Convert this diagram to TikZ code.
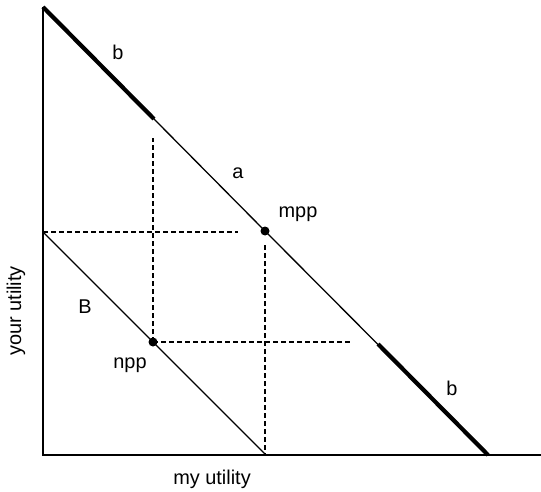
\documentclass[tikz,border=0pt]{standalone}
\usepackage{fontspec}
\setmainfont{Liberation Sans}
\usetikzlibrary{positioning}

\tikzset{
  axisline/.style={line width=1.4bp},
  frontier/.style={line width=1.3bp},
  thickpart/.style={line width=4.2bp},
  guide/.style={line width=1.2bp, dash pattern=on 5bp off 3bp},
  pointdot/.style={circle, fill=black, inner sep=0pt, minimum size=9bp},
  lbl/.style={font=\fontsize{20}{23}\selectfont, inner sep=0pt}
}

\begin{document}
\begin{tikzpicture}[x=1bp, y=-1bp]
  \useasboundingbox (0,0) rectangle (541,492);

  \coordinate (origin) at (43,455);
  \coordinate (ytop) at (43,7);
  \coordinate (xend) at (541,455);
  \coordinate (bigend) at (488,455);
  \coordinate (kinkup) at (154,119);
  \coordinate (kinklow) at (378,344);
  \coordinate (smalltop) at (43,232);
  \coordinate (smallend) at (266,455);
  \coordinate (nppup) at (153,138);
  \coordinate (nppright) at (352,342);
  \coordinate (mppleft) at (238,232);

  \node[pointdot] (mpp) at (265,231) {};
  \node[pointdot] (npp) at (153,342) {};

  % axes
  \draw[axisline] (ytop) -- (origin) -- (xend);

  % frontiers
  \draw[frontier] (ytop) -- (mpp.center) -- (bigend);
  \draw[frontier] (smalltop) -- (npp.center) -- (smallend);
  \draw[thickpart] (ytop) -- (kinkup);
  \draw[thickpart] (kinklow) -- (bigend);

  % guides
  \draw[guide] (npp.center) -- (nppup);
  \draw[guide] (npp.center) -- (nppright);
  \draw[guide] (smalltop) -- (mppleft);
  \draw[guide, shorten <=14bp] (mpp.center) -- (mpp |- origin);

  \node[lbl] (topb) at (118,52) {b};
  \node[lbl] (lowb) at (452,388) {b};
  \node[lbl] (alab) at (238,173) {a};
  \node[lbl] (Blab) at (85,307) {B};
  \node[lbl] (mpplab) at (298,214) {mpp};
  \node[lbl] (npplab) at (130,365) {npp};
  \node[lbl, rotate=90] (ylab) at (16,311) {your utility};
  \node[lbl] (xlab) at (212,479) {my utility};
\end{tikzpicture}
\end{document}
